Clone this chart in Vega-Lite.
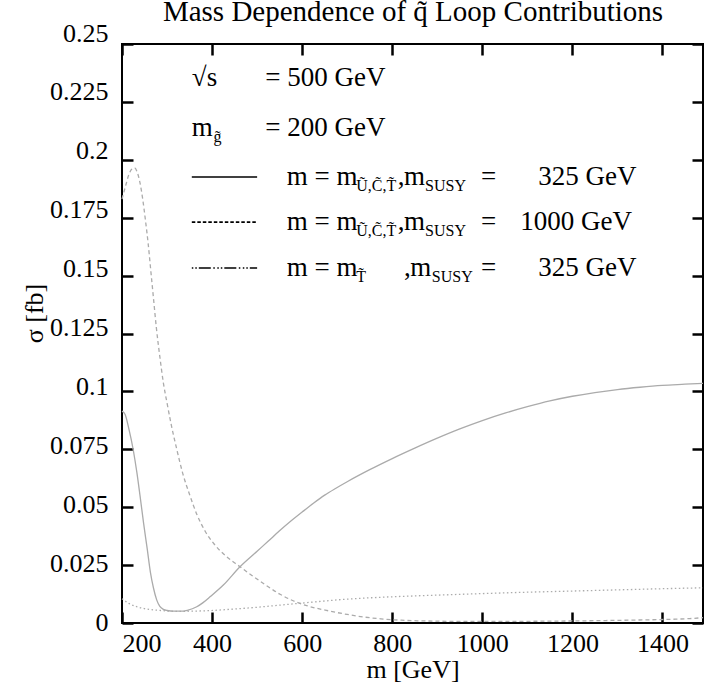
{
  "$schema": "https://vega.github.io/schema/vega-lite/v6.json",
  "width": 581,
  "height": 579,
  "autosize": "none",
  "padding": {"left": 122, "top": 44, "right": 2, "bottom": 64},
  "background": "white",
  "config": {
    "view": {"stroke": "black", "strokeWidth": 2, "fill": null},
    "axis": {"grid": false, "domain": false, "labelColor": "black", "titleColor": "black", "labelFont": "Liberation Serif", "titleFont": "Liberation Serif", "labelFontSize": 26, "titleFontSize": 26, "titleFontWeight": "normal"}
  },
  "datasets": {
    "solid": [
      {"m": 200, "s": 0.0915}, {"m": 207, "s": 0.0900}, {"m": 215, "s": 0.0840}, {"m": 225, "s": 0.0747}, {"m": 233, "s": 0.0650}, {"m": 240, "s": 0.0550}, {"m": 248, "s": 0.0430}, {"m": 256, "s": 0.0320}, {"m": 263, "s": 0.0220}, {"m": 270, "s": 0.0150}, {"m": 277, "s": 0.0100}, {"m": 284, "s": 0.0072}, {"m": 292, "s": 0.0059}, {"m": 300, "s": 0.0054}, {"m": 315, "s": 0.0051}, {"m": 330, "s": 0.0051}, {"m": 345, "s": 0.0055}, {"m": 366, "s": 0.0070}, {"m": 380, "s": 0.0088}, {"m": 396, "s": 0.0114}, {"m": 425, "s": 0.0164}, {"m": 462, "s": 0.0243}, {"m": 500, "s": 0.0310}, {"m": 525, "s": 0.0354}, {"m": 551, "s": 0.0400}, {"m": 575, "s": 0.0440}, {"m": 600, "s": 0.0479}, {"m": 625, "s": 0.0517}, {"m": 650, "s": 0.0552}, {"m": 675, "s": 0.0582}, {"m": 700, "s": 0.0610}, {"m": 750, "s": 0.0662}, {"m": 800, "s": 0.0710}, {"m": 850, "s": 0.0755}, {"m": 900, "s": 0.0798}, {"m": 950, "s": 0.0838}, {"m": 1000, "s": 0.0874}, {"m": 1050, "s": 0.0906}, {"m": 1100, "s": 0.0934}, {"m": 1150, "s": 0.0959}, {"m": 1200, "s": 0.0979}, {"m": 1250, "s": 0.0995}, {"m": 1300, "s": 0.1008}, {"m": 1350, "s": 0.1018}, {"m": 1400, "s": 0.1026}, {"m": 1450, "s": 0.1031}, {"m": 1490, "s": 0.1035}
    ],
    "dashed": [
      {"m": 200, "s": 0.1830}, {"m": 207, "s": 0.1880}, {"m": 215, "s": 0.1935}, {"m": 222, "s": 0.1960}, {"m": 228, "s": 0.1965}, {"m": 234, "s": 0.1945}, {"m": 240, "s": 0.1900}, {"m": 246, "s": 0.1830}, {"m": 252, "s": 0.1740}, {"m": 258, "s": 0.1640}, {"m": 264, "s": 0.1520}, {"m": 270, "s": 0.1400}, {"m": 276, "s": 0.1280}, {"m": 284, "s": 0.1150}, {"m": 292, "s": 0.1035}, {"m": 300, "s": 0.0950}, {"m": 310, "s": 0.0850}, {"m": 322, "s": 0.0747}, {"m": 335, "s": 0.0645}, {"m": 350, "s": 0.0555}, {"m": 366, "s": 0.0470}, {"m": 385, "s": 0.0395}, {"m": 405, "s": 0.0340}, {"m": 430, "s": 0.0290}, {"m": 462, "s": 0.0243}, {"m": 490, "s": 0.0203}, {"m": 522, "s": 0.0160}, {"m": 551, "s": 0.0124}, {"m": 580, "s": 0.0096}, {"m": 610, "s": 0.0075}, {"m": 660, "s": 0.0052}, {"m": 700, "s": 0.0037}, {"m": 740, "s": 0.0025}, {"m": 775, "s": 0.0018}, {"m": 820, "s": 0.0012}, {"m": 870, "s": 0.0009}, {"m": 950, "s": 0.0007}, {"m": 1050, "s": 0.0007}, {"m": 1150, "s": 0.0008}, {"m": 1250, "s": 0.0010}, {"m": 1350, "s": 0.0013}, {"m": 1420, "s": 0.0016}, {"m": 1460, "s": 0.0019}, {"m": 1490, "s": 0.0023}
    ],
    "dotted": [
      {"m": 200, "s": 0.0105}, {"m": 215, "s": 0.0085}, {"m": 230, "s": 0.0072}, {"m": 245, "s": 0.0064}, {"m": 260, "s": 0.0059}, {"m": 280, "s": 0.0055}, {"m": 300, "s": 0.0052}, {"m": 320, "s": 0.0050}, {"m": 350, "s": 0.0051}, {"m": 390, "s": 0.0053}, {"m": 440, "s": 0.0059}, {"m": 500, "s": 0.0068}, {"m": 550, "s": 0.0077}, {"m": 600, "s": 0.0086}, {"m": 650, "s": 0.0095}, {"m": 700, "s": 0.0103}, {"m": 775, "s": 0.0111}, {"m": 850, "s": 0.0117}, {"m": 925, "s": 0.0122}, {"m": 1000, "s": 0.0127}, {"m": 1100, "s": 0.0133}, {"m": 1200, "s": 0.0138}, {"m": 1300, "s": 0.0143}, {"m": 1400, "s": 0.0148}, {"m": 1490, "s": 0.0152}
    ]
  },
  "resolve": {"axis": {"x": "independent", "y": "independent"}},
  "layer": [
    {
      "data": {"name": "solid"},
      "mark": {"type": "line", "color": "#ababab", "strokeWidth": 1.3, "interpolate": "monotone"},
      "encoding": {
        "x": {"field": "m", "type": "quantitative", "scale": {"domain": [200, 1490], "nice": false, "zero": false},
          "axis": {"orient": "bottom", "values": [200, 400, 600, 800, 1000, 1200, 1400], "format": "d", "offset": -11, "tickSize": 11, "tickWidth": 2.5, "tickColor": "black", "labelPadding": 7, "title": "m [GeV]", "titlePadding": 0}},
        "y": {"field": "s", "type": "quantitative", "scale": {"domain": [0, 0.25], "nice": false, "zero": true},
          "axis": {"orient": "left", "values": [0, 0.025, 0.05, 0.075, 0.1, 0.125, 0.15, 0.175, 0.2, 0.225, 0.25], "format": ".3~f", "offset": -11, "tickSize": 11, "tickWidth": 2.5, "tickColor": "black", "labelPadding": 14, "labelOffset": {"expr": "-1 - datum.value * 40"}, "title": "σ [fb]", "titlePadding": 2, "titleY": 269}}
      }
    },
    {
      "data": {"name": "dashed"},
      "mark": {"type": "line", "color": "#ababab", "strokeWidth": 1.3, "strokeDash": [4, 3], "interpolate": "monotone"},
      "encoding": {
        "x": {"field": "m", "type": "quantitative", "axis": null},
        "y": {"field": "s", "type": "quantitative", "axis": null}
      }
    },
    {
      "data": {"name": "dotted"},
      "mark": {"type": "line", "color": "#ababab", "strokeWidth": 1.3, "strokeDash": [1.5, 2.5], "interpolate": "monotone"},
      "encoding": {
        "x": {"field": "m", "type": "quantitative", "axis": null},
        "y": {"field": "s", "type": "quantitative", "axis": null}
      }
    },
    {
      "data": {"values": [{"x1": 355, "x2": 500, "y": 0.1926}]},
      "mark": {"type": "rule", "color": "black", "strokeWidth": 1.6},
      "encoding": {
        "x": {"field": "x1", "type": "quantitative", "axis": null},
        "x2": {"field": "x2"},
        "y": {"field": "y", "type": "quantitative", "axis": null}
      }
    },
    {
      "data": {"values": [{"x1": 355, "x2": 500, "y": 0.1731}]},
      "mark": {"type": "rule", "color": "black", "strokeWidth": 1.6, "strokeDash": [3.5, 2]},
      "encoding": {
        "x": {"field": "x1", "type": "quantitative", "axis": null},
        "x2": {"field": "x2"},
        "y": {"field": "y", "type": "quantitative", "axis": null}
      }
    },
    {
      "data": {"values": [{"x1": 355, "x2": 500, "y": 0.1533}]},
      "mark": {"type": "rule", "color": "black", "strokeWidth": 1.6, "strokeDash": [1.5, 2, 1.5, 2, 12, 2.5, 1.5, 2.5]},
      "encoding": {
        "x": {"field": "x1", "type": "quantitative", "axis": null},
        "x2": {"field": "x2"},
        "y": {"field": "y", "type": "quantitative", "axis": null}
      }
    },
    {
      "data": {"values": [
        {"x": 355, "y": 0.2353, "t": "√s"},
        {"x": 518, "y": 0.2353, "t": "= 500 GeV"},
        {"x": 355, "y": 0.2137, "t": "m"},
        {"x": 518, "y": 0.2137, "t": "= 200 GeV"},
        {"x": 566, "y": 0.1926, "t": "m = m"},
        {"x": 812, "y": 0.1926, "t": ","},
        {"x": 826, "y": 0.1926, "t": "m"},
        {"x": 997, "y": 0.1926, "t": "="},
        {"x": 1124, "y": 0.1926, "t": "325 GeV"},
        {"x": 566, "y": 0.1731, "t": "m = m"},
        {"x": 812, "y": 0.1731, "t": ","},
        {"x": 826, "y": 0.1731, "t": "m"},
        {"x": 997, "y": 0.1731, "t": "="},
        {"x": 1084, "y": 0.1731, "t": "1000 GeV"},
        {"x": 566, "y": 0.1533, "t": "m = m"},
        {"x": 826, "y": 0.1533, "t": ","},
        {"x": 840, "y": 0.1533, "t": "m"},
        {"x": 997, "y": 0.1533, "t": "="},
        {"x": 1124, "y": 0.1533, "t": "325 GeV"}
      ]},
      "mark": {"type": "text", "align": "left", "baseline": "middle", "font": "Liberation Serif", "fontSize": 27, "color": "black"},
      "encoding": {
        "x": {"field": "x", "type": "quantitative",
          "axis": {"orient": "top", "values": [200, 400, 600, 800, 1000, 1200, 1400], "tickSize": -11, "tickWidth": 2.5, "tickColor": "black", "labels": false, "title": "Mass Dependence of q̃ Loop Contributions", "titleFontSize": 29, "titlePadding": 16}},
        "y": {"field": "y", "type": "quantitative",
          "axis": {"orient": "right", "zindex": 3, "values": [0, 0.025, 0.05, 0.075, 0.1, 0.125, 0.15, 0.175, 0.2, 0.225, 0.25], "offset": -11, "tickSize": 11, "tickWidth": 2.5, "tickColor": "black", "labels": false, "title": null}},
        "text": {"field": "t"}
      }
    },
    {
      "data": {"values": [
        {"x": 403, "y": 0.2137, "t": "g̃"},
        {"x": 720, "y": 0.1926, "t": "Ũ,C̃,T̃"},
        {"x": 873, "y": 0.1926, "t": "SUSY"},
        {"x": 720, "y": 0.1731, "t": "Ũ,C̃,T̃"},
        {"x": 873, "y": 0.1731, "t": "SUSY"},
        {"x": 720, "y": 0.1533, "t": "T̃"},
        {"x": 888, "y": 0.1533, "t": "SUSY"}
      ]},
      "mark": {"type": "text", "align": "left", "baseline": "middle", "dy": 9, "font": "Liberation Serif", "fontSize": 16, "color": "black"},
      "encoding": {
        "x": {"field": "x", "type": "quantitative", "axis": null},
        "y": {"field": "y", "type": "quantitative", "axis": null},
        "text": {"field": "t"}
      }
    }
  ]
}
